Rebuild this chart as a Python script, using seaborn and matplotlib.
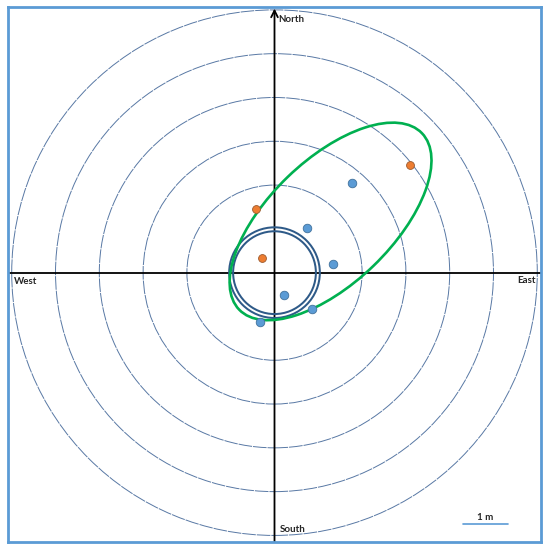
import matplotlib
matplotlib.use("Agg")
import matplotlib.pyplot as plt
from matplotlib.patches import Circle, Ellipse
import seaborn as sns
import pandas as pd

# ---- data (metres) ----
blue_x = [1.77, 0.735, 1.34, 0.22, 0.86, -0.33]
blue_y = [2.05, 1.03, 0.20, -0.52, -0.84, -1.13]
orange_x = [3.09, -0.42, -0.29]
orange_y = [2.46, 1.46, 0.34]
ring_radii = [2, 3, 4, 5, 6]
inner_ring_radii = [1.035, 0.945]
ellipse_center = (1.28, 1.17)
ellipse_width = 5.8
ellipse_height = 2.82
ellipse_angle = 44
direction_labels = ["North", "South", "West", "East"]
scale_label = "1 m"

sns.set_theme(style="white")
plt.rcParams['font.family'] = ['Lato', 'DejaVu Sans']

fig = plt.figure(figsize=(5.5, 5.5), dpi=100)
ax = fig.add_axes([8/550, 8/550, 533/550, 535/550])
ax.set_xlim(-6.085, 6.085)
ax.set_ylim(-6.15, 6.066)
ax.set_xticks([])
ax.set_yticks([])
for s in ax.spines.values():
    s.set_color('#5B9BD5')
    s.set_linewidth(2.0)
    s.set_visible(True)

# range rings (fine long dashes)
for r in ring_radii:
    ax.add_patch(Circle((0, 0), r, fill=False, ec='#5878A4', lw=0.7,
                        ls=(0, (14, 1)), zorder=1))

# axes lines
ax.plot([-6.085, 6.085], [0, 0], color='black', lw=1.3, zorder=2)
ax.annotate('', xy=(0, 6.03), xytext=(0, -6.15),
            arrowprops=dict(arrowstyle='->', lw=1.3, color='black',
                            shrinkA=0, shrinkB=0, mutation_scale=12),
            zorder=2)

# double inner circle
for r in inner_ring_radii:
    ax.add_patch(Circle((0, 0), r, fill=False, ec='#2E5A88', lw=1.45, zorder=3))

# green ellipse
ax.add_patch(Ellipse(ellipse_center, ellipse_width, ellipse_height,
                     angle=ellipse_angle, fill=False, ec='#00B050', lw=1.9, zorder=3))

# points
df_blue = pd.DataFrame({'x': blue_x, 'y': blue_y})
df_orange = pd.DataFrame({'x': orange_x, 'y': orange_y})
sns.scatterplot(data=df_blue, x='x', y='y', ax=ax, color='#5B9BD5',
                edgecolor='#41719C', linewidth=0.6, s=38, zorder=4, legend=False)
sns.scatterplot(data=df_orange, x='x', y='y', ax=ax, color='#ED7D31',
                edgecolor='#9C5A2E', linewidth=0.6, s=32, zorder=4, legend=False)
ax.set_xlabel('')
ax.set_ylabel('')

# direction labels
fs = 7
ax.text(0.09, 5.77, direction_labels[0], ha='left', va='center', fontsize=fs, fontweight='bold')
ax.text(0.11, -5.87, direction_labels[1], ha='left', va='center', fontsize=fs, fontweight='bold')
ax.text(-5.95, -0.21, direction_labels[2], ha='left', va='center', fontsize=fs, fontweight='bold')
ax.text(5.97, -0.18, direction_labels[3], ha='right', va='center', fontsize=fs, fontweight='bold')

# scale bar
ax.plot([4.31, 5.33], [-5.74, -5.74], color='#5B9BD5', lw=1.2)
ax.text(4.82, -5.6, scale_label, ha='center', va='center', fontsize=fs, fontweight='bold')

fig.savefig('out.png', dpi=100)
